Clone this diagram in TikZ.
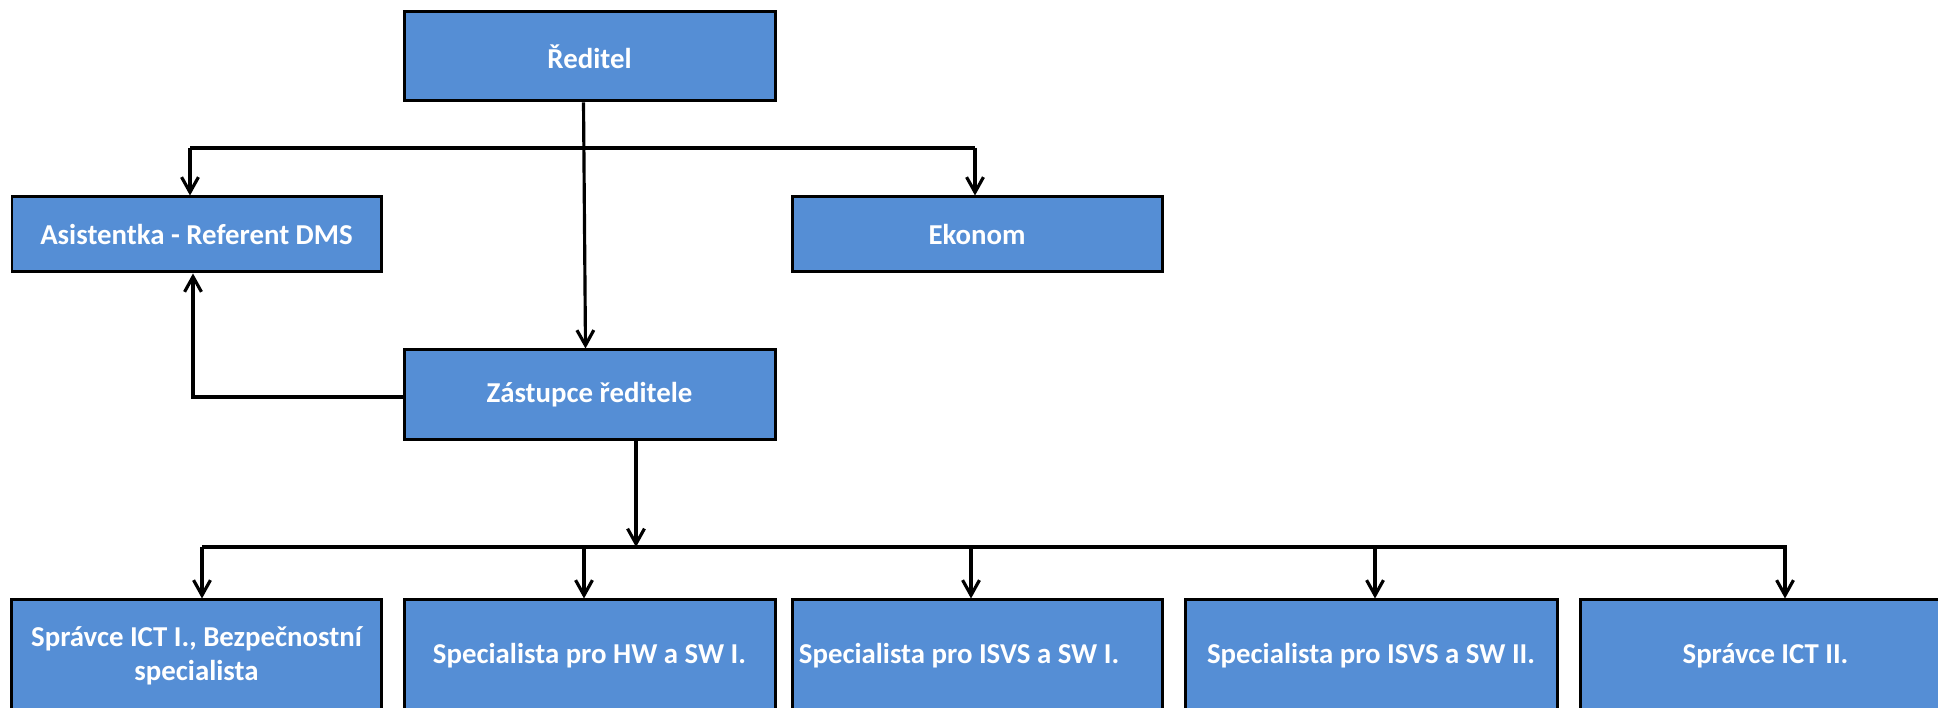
\documentclass[tikz,border=0pt]{standalone}
\usepackage{fontspec}
\setmainfont{Carlito}
\usepackage{tikz}
\usetikzlibrary{positioning}
\usetikzlibrary{arrows.meta}
\definecolor{boxblue}{HTML}{558ED5}
\tikzstyle{box}=[draw=black, line width=0.85pt, fill=boxblue, text=white,
  font=\fontsize{8.2}{9.8}\selectfont\bfseries, align=center,
  minimum width=3.70cm, inner sep=0pt]
\tikzstyle{conn}=[->, line width=0.9pt]
\tikzstyle{bus}=[line width=1.4pt]
\tikzset{>={Straight Barb[length=4.3pt,width=4.8pt,line width=0.9pt]}}

\begin{document}
\begin{tikzpicture}
    \useasboundingbox (0,0) rectangle (19.38,7.08);

    % top level
    \node[box, minimum width=3.71cm, minimum height=0.89cm] (reditel) at (5.895,6.515) {Ředitel};
    \node[box, minimum width=3.69cm, minimum height=0.75cm] (asist) at (1.965,4.735) {Asistentka - Referent DMS};
    \node[box, minimum height=0.75cm] (ekonom) at (9.77,4.735) {Ekonom};
    \node[box, minimum width=3.71cm, minimum height=0.90cm] (zastupce) at (5.895,3.13) {Zástupce ředitele};

    % bottom row
    \node[box, minimum height=1.12cm] (spravce1) at (1.965,0.52) {Správce ICT I., Bezpečnostní\\specialista};
    \node[box, minimum width=3.71cm, minimum height=1.12cm] (hwsw) at (5.895,0.52) {Specialista pro HW a SW I.};
    \node[box, minimum height=1.12cm] (isvs1) at (9.77,0.52) {Specialista pro ISVS a SW I.\hspace*{0.36cm}};
    \node[box, minimum width=3.72cm, minimum height=1.12cm] (isvs2) at (13.71,0.52) {Specialista pro ISVS a SW II.};
    \node[box, minimum width=3.71cm, minimum height=1.12cm] (spravce2) at (17.655,0.52) {Správce ICT II.};

    % bus under the director
    \coordinate (busL) at (1.90,5.60);
    \coordinate (busR) at (9.75,5.60);
    \draw[bus] (busL) -- (busR);
    \draw[conn] (busL) -- (busL |- asist.north);
    \draw[conn] (busR) -- (busR |- ekonom.north);
    \draw[conn] ([xshift=-0.6mm]reditel.south) -- ([xshift=-0.4mm]zastupce.north);

    % deputy to assistant
    \draw[conn] ([yshift=-0.2mm]zastupce.west) -| ([xshift=-0.35mm]asist.south);

    % bus over the bottom row
    \coordinate (down) at (6.36,1.61);
    \coordinate (bus2L) at (2.02,1.61);
    \coordinate (bus2R) at (17.87,1.61);
    \draw[bus] (bus2L) -- (bus2R);
    \draw[conn] (zastupce.south -| down) -- (down);
    \foreach \x/\n in {2.02/spravce1, 5.84/hwsw, 9.71/isvs1, 13.75/isvs2, 17.85/spravce2}
      \draw[conn] (\x,1.61) -- (\x,0 |- \n.north);
\end{tikzpicture}
\end{document}
